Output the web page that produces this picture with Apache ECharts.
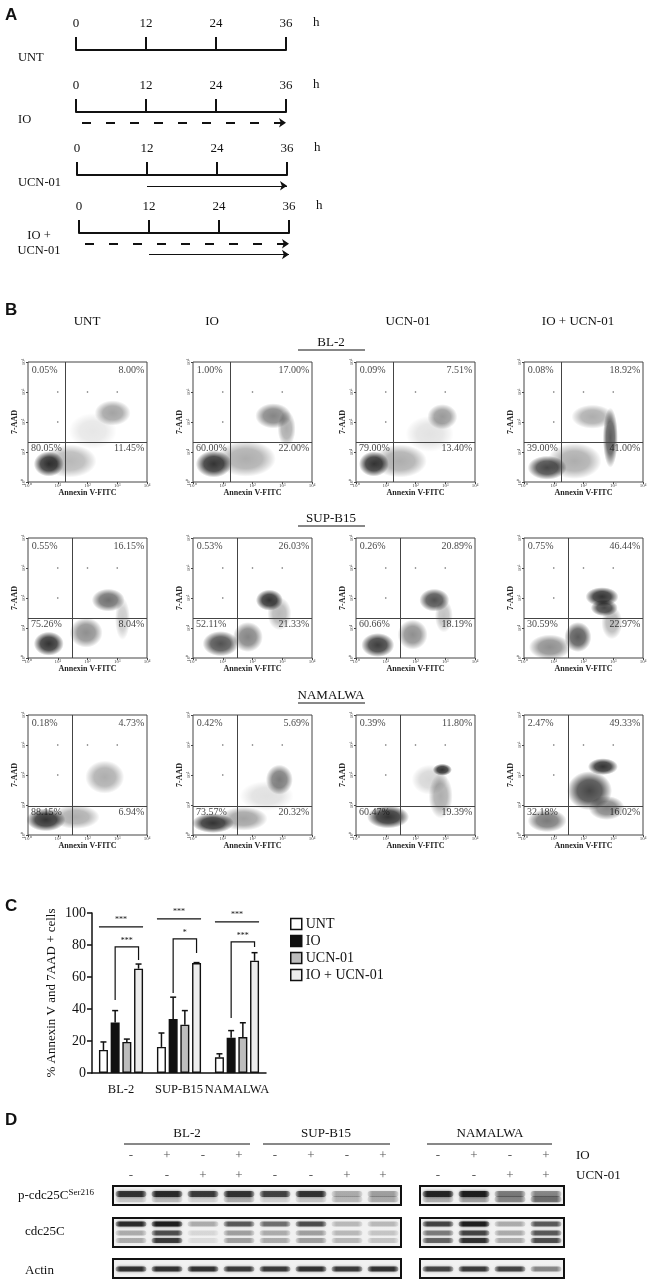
<!DOCTYPE html>
<html>
<head>
<meta charset="utf-8">
<script src="https://cdn.jsdelivr.net/npm/echarts@6/dist/echarts.min.js"></script>
<style>
  html, body { margin: 0; padding: 0; background: #fff; }
  #main { width: 654px; height: 1282px; }
</style>
</head>
<body>
<div id="main"></div>
<script>
// ---------- data ----------

// A: schedule
const timeTicks = [0, 12, 24, 36];
const scheduleRows = ['UNT', 'IO', 'UCN-01', 'IO +\nUCN-01'];
// [row, lane, start (h), end (h), drug]
const scheduleArrows = [
  [1, 1, 0, 36, 'IO'],
  [2, 1, 12, 36, 'UCN-01'],
  [3, 1, 0, 36, 'IO'],
  [3, 2, 12, 36, 'UCN-01']
];

// B: flow cytometry
const flowConditions = ['UNT', 'IO', 'UCN-01', 'IO + UCN-01'];
const flowLines = ['BL-2', 'SUP-B15', 'NAMALWA'];
const decadeTicks = ['10⁰', '10¹', '10²', '10³', '10⁴'];
// gate positions per cell line (Annexin V, 7-AAD)
const gateX = [18, 30, 30];
const gateY = [21, 21, 9.3];
// quadrant percentages [UL, UR, LL, LR]
const quadPct = [
  [['0.05%', '8.00%', '80.05%', '11.45%'], ['1.00%', '17.00%', '60.00%', '22.00%'],
   ['0.09%', '7.51%', '79.00%', '13.40%'], ['0.08%', '18.92%', '39.00%', '41.00%']],
  [['0.55%', '16.15%', '75.26%', '8.04%'], ['0.53%', '26.03%', '52.11%', '21.33%'],
   ['0.26%', '20.89%', '60.66%', '18.19%'], ['0.75%', '46.44%', '30.59%', '22.97%']],
  [['0.18%', '4.73%', '88.15%', '6.94%'], ['0.42%', '5.69%', '73.57%', '20.32%'],
   ['0.39%', '11.80%', '60.47%', '19.39%'], ['2.47%', '49.33%', '32.18%', '16.02%']]
];
// cell populations: [annexin centre, 7-AAD centre, spread x (decades), spread y (decades), density]
const flowPops = [
  [
    [[5, 4, 0.5, 0.42, 1.0], [25, 5, 0.9, 0.55, 0.35], [700, 200, 0.6, 0.42, 0.45], [150, 50, 0.8, 0.6, 0.12]],
    [[5, 4, 0.6, 0.45, 1.0], [60, 6, 1.0, 0.6, 0.4], [500, 160, 0.6, 0.42, 0.6], [1400, 60, 0.3, 0.6, 0.4]],
    [[4, 4, 0.5, 0.42, 1.0], [30, 5, 0.9, 0.55, 0.4], [800, 150, 0.5, 0.42, 0.5], [300, 40, 0.8, 0.6, 0.14]],
    [[6, 3, 0.65, 0.4, 0.9], [50, 5, 0.9, 0.6, 0.4], [800, 30, 0.25, 1.0, 0.8], [200, 150, 0.7, 0.4, 0.4]]
  ],
  [
    [[5, 3, 0.5, 0.4, 1.0], [90, 7, 0.55, 0.5, 0.55], [500, 85, 0.55, 0.38, 0.7], [1500, 20, 0.25, 0.7, 0.25]],
    [[8.5, 3, 0.6, 0.42, 0.85], [70, 5, 0.5, 0.5, 0.6], [370, 85, 0.45, 0.35, 1.0], [800, 30, 0.4, 0.55, 0.35]],
    [[5.4, 2.7, 0.55, 0.4, 0.95], [80, 6, 0.5, 0.5, 0.55], [430, 85, 0.5, 0.38, 0.85], [900, 25, 0.3, 0.55, 0.3]],
    [[7.4, 2.3, 0.7, 0.42, 0.55], [65, 5, 0.45, 0.5, 0.8], [420, 110, 0.55, 0.32, 1.0], [500, 47, 0.45, 0.28, 0.9], [900, 15, 0.35, 0.55, 0.35]]
  ],
  [
    [[4, 3.2, 0.65, 0.38, 1.0], [40, 4, 0.8, 0.4, 0.4], [380, 85, 0.65, 0.55, 0.4]],
    [[4.7, 2.5, 0.7, 0.33, 1.0], [50, 3.5, 0.8, 0.4, 0.45], [800, 70, 0.45, 0.5, 0.65], [300, 20, 0.9, 0.5, 0.15]],
    [[12, 4, 0.7, 0.38, 1.0], [700, 20, 0.4, 0.75, 0.4], [800, 150, 0.32, 0.2, 1.0], [300, 70, 0.6, 0.5, 0.2]],
    [[6, 3, 0.65, 0.38, 0.65], [160, 30, 0.75, 0.65, 0.9], [450, 190, 0.5, 0.28, 1.0], [600, 8, 0.6, 0.4, 0.6]]
  ]
];
// isolated events seen in every plot
const strayEvents = [[10, 1000], [100, 1000], [1000, 1000], [10, 100]];

// C: bar chart
const barGroups = ['BL-2', 'SUP-B15', 'NAMALWA'];
const barNames = ['UNT', 'IO', 'UCN-01', 'IO + UCN-01'];
const barMeans = [[14.4, 16.3, 9.8], [31.5, 33.8, 22], [19.4, 30.2, 22.5], [65.2, 68.7, 70.2]];
const barSD = [[5, 8.7, 2.2], [7.5, 13.6, 4.5], [1.8, 8.8, 8.9], [2.9, 0.3, 5]];
// [group, height, mark]
const sigAll = [[0, 91.3, '***'], [1, 96.3, '***'], [2, 94.4, '***']];
// [group, IO end, bracket top, IO+UCN end, mark]
const sigPair = [[0, 45.6, 78.8, 70.6, '***'], [1, 50, 83.8, 75, '*'], [2, 34.4, 81.9, 78.8, '***']];

// D: western blot
const blotLines = ['BL-2', 'SUP-B15', 'NAMALWA'];
const laneIO = ['-', '+', '-', '+', '-', '+', '-', '+', '-', '+', '-', '+'];
const laneUCN = ['-', '-', '+', '+', '-', '-', '+', '+', '-', '-', '+', '+'];
const blotRows = ['p-cdc25C', 'cdc25C', 'Actin'];
const pCdcMain = [0.85, 0.9, 0.8, 0.85, 0.75, 0.85, 0.3, 0.35, 0.95, 1.0, 0.5, 0.45];
const pCdcLow = [0.2, 0.25, 0.15, 0.3, 0.15, 0.2, 0.25, 0.3, 0.3, 0.35, 0.45, 0.55];
const cdcTop = [0.9, 1.0, 0.3, 0.65, 0.55, 0.7, 0.25, 0.25, 0.75, 1.0, 0.3, 0.65];
const cdcMid = [0.3, 0.7, 0.12, 0.35, 0.3, 0.35, 0.25, 0.2, 0.5, 0.75, 0.3, 0.65];
const cdcLow = [0.3, 0.8, 0.1, 0.35, 0.3, 0.35, 0.25, 0.2, 0.6, 0.85, 0.3, 0.7];
const actinBand = [0.85, 0.85, 0.85, 0.8, 0.8, 0.85, 0.8, 0.85, 0.75, 0.8, 0.75, 0.45];
// band level within each strip (0 = bottom, 1 = top)
const blotBands = [
  [[0.58, pCdcMain], [0.3, pCdcLow]],
  [[0.79, cdcTop], [0.48, cdcMid], [0.22, cdcLow]],
  [[0.48, actinBand]]
];

// ---------- layout ----------

const SERIF = 'Liberation Serif';
const SANS = 'Liberation Sans';
const INK = '#111';

const grid = [], xAxis = [], yAxis = [], series = [], graphic = [];

function addCart(g, xa, ya) {
  const i = grid.length;
  grid.push(g);
  xa.gridIndex = i;
  ya.gridIndex = i;
  xAxis.push(xa);
  yAxis.push(ya);
  return i;
}

function txt(x, y, text, o) {
  graphic.push({
    type: 'text', x: x, y: y, silent: true,
    style: Object.assign({
      text: text, fill: INK, fontFamily: SERIF, fontSize: 13,
      align: 'left', verticalAlign: 'middle'
    }, o || {})
  });
}

function hline(x1, x2, y, w) {
  graphic.push({
    type: 'line', silent: true,
    shape: { x1: x1, y1: y, x2: x2, y2: y },
    style: { stroke: INK, lineWidth: w || 1 }
  });
}

// panel letters
[['A', 15], ['B', 310], ['C', 906], ['D', 1120]].forEach(function (p) {
  txt(5, p[1], p[0], { fontFamily: SANS, fontWeight: 'bold', fontSize: 17 });
});

// ----- A: timelines
const tlLeft = [76, 76, 77, 79];
const tlTop = [50, 112, 175, 233];

scheduleRows.forEach(function (name, r) {
  const i = addCart(
    { left: tlLeft[r], top: tlTop[r], width: 210, height: 28 },
    {
      type: 'value', position: 'top', min: 0, max: 36, interval: 12,
      axisLine: { lineStyle: { color: INK, width: 2 } },
      axisTick: { length: 13, lineStyle: { color: INK, width: 2 } },
      axisLabel: { margin: 20, color: INK, fontFamily: SERIF, fontSize: 13 },
      splitLine: { show: false }
    },
    { type: 'value', min: 0, max: 2.6, inverse: true, show: false }
  );
  const arrows = scheduleArrows.filter(function (a) { return a[0] === r; });
  series.push({
    type: 'lines', coordinateSystem: 'cartesian2d', xAxisIndex: i, yAxisIndex: i,
    symbol: ['none', 'arrow'], symbolSize: 7, silent: true,
    data: arrows.map(function (a) {
      const io = a[4] === 'IO';
      return {
        coords: [[a[2], a[1]], [a[3], a[1]]],
        lineStyle: io
          ? { color: INK, width: 2, type: [9, 15], dashOffset: 18, curveness: 0, opacity: 1 }
          : { color: INK, width: 1.2, type: 'solid', curveness: 0, opacity: 1 }
      };
    })
  });
  txt(313 + tlLeft[r] - 76, tlTop[r] - 27, 'h', { fontSize: 13 });
  if (name.indexOf('\n') >= 0) {
    txt(39, tlTop[r] + 10, name, { align: 'center', fontSize: 12.5, lineHeight: 15 });
  } else {
    txt(18, tlTop[r] + 8, name, { fontSize: 12.5 });
  }
});

// ----- B: flow plots
const colLeft = [28, 193, 356, 524];
const colHead = [87, 212, 408, 578];
const rowTop = [362, 538, 715];
const FW = 119, FH = 120;
const pxPerDecade = FH / 4;

flowConditions.forEach(function (c, k) { txt(colHead[k], 322, c, { align: 'center' }); });

function blobFill(d) {
  return new echarts.graphic.RadialGradient(0.5, 0.5, 0.5, [
    { offset: 0, color: 'rgba(0,0,0,' + d + ')' },
    { offset: 0.55, color: 'rgba(0,0,0,' + (d * 0.85).toFixed(3) + ')' },
    { offset: 0.85, color: 'rgba(0,0,0,' + (d * 0.3).toFixed(3) + ')' },
    { offset: 1, color: 'rgba(0,0,0,0)' }
  ]);
}

function decadeLabel(v) {
  return decadeTicks[Math.round(Math.log10(v))];
}

flowLines.forEach(function (line, r) {
  txt(331, rowTop[r] - 19, line, { align: 'center' });
  hline(298, 365, rowTop[r] - 12, 1);

  flowConditions.forEach(function (cond, k) {
    const i = addCart(
      {
        left: colLeft[k], top: rowTop[r], width: FW, height: FH,
        show: true, borderColor: '#444', borderWidth: 1
      },
      {
        type: 'log', logBase: 10, min: 1, max: 10000,
        name: 'Annexin V-FITC', nameLocation: 'middle', nameGap: 6,
        nameTextStyle: { fontFamily: SERIF, fontSize: 8, fontWeight: 'bold', color: '#222' },
        axisLine: { show: false },
        axisTick: { length: 2, lineStyle: { color: '#444' } },
        axisLabel: { formatter: decadeLabel, fontSize: 5, margin: 1, color: '#444', fontFamily: SERIF, showMinLabel: true, showMaxLabel: true },
        splitLine: { show: false }
      },
      {
        type: 'log', logBase: 10, min: 1, max: 10000,
        name: '7-AAD', nameLocation: 'middle', nameGap: 9,
        nameTextStyle: { fontFamily: SERIF, fontSize: 8, fontWeight: 'bold', color: '#222' },
        axisLine: { show: false },
        axisTick: { length: 2, lineStyle: { color: '#444' } },
        axisLabel: { formatter: decadeLabel, fontSize: 5, margin: 2, rotate: 90, color: '#444', fontFamily: SERIF, showMinLabel: true, showMaxLabel: true },
        splitLine: { show: false }
      }
    );

    // populations
    series.push({
      type: 'scatter', xAxisIndex: i, yAxisIndex: i, clip: true, silent: true, z: 2,
      symbol: 'circle',
      symbolSize: function (v) { return [v[2] * 2 * pxPerDecade, v[3] * 2 * pxPerDecade]; },
      data: flowPops[r][k].map(function (p) {
        return { value: p, itemStyle: { color: blobFill(p[4]) } };
      }),
      markLine: {
        silent: true, symbol: 'none', label: { show: false },
        lineStyle: { color: '#444', width: 1, type: 'solid' },
        data: [{ xAxis: gateX[r] }, { yAxis: gateY[r] }]
      }
    });

    // stray events
    series.push({
      type: 'scatter', xAxisIndex: i, yAxisIndex: i, silent: true, z: 3,
      symbolSize: 1.6, itemStyle: { color: '#444' },
      data: strayEvents
    });

    // quadrant percentages
    const q = quadPct[r][k];
    series.push({
      type: 'scatter', xAxisIndex: i, yAxisIndex: i, silent: true, z: 6,
      symbolSize: 1, itemStyle: { color: 'rgba(0,0,0,0)' },
      label: { show: true, position: [0, 0], formatter: '{b}', fontFamily: SERIF, fontSize: 10, color: INK },
      data: [
        { name: q[0], value: [1.4, 5000], label: { align: 'left', verticalAlign: 'middle' } },
        { name: q[1], value: [8500, 5000], label: { align: 'right', verticalAlign: 'middle' } },
        { name: q[2], value: [1.3, gateY[r]], label: { align: 'left', verticalAlign: 'top', position: [0, 2] } },
        { name: q[3], value: [8500, gateY[r]], label: { align: 'right', verticalAlign: 'top', position: [0, 2] } }
      ]
    });
  });
});

// ----- C: bar chart
const barFill = ['#ffffff', '#111111', '#bdbdbd', '#ededed'];
const BAR_W = 9, BAR_STEP = 9 * 1.3;

const bi = addCart(
  { left: 92, top: 913, width: 174, height: 160 },
  {
    type: 'category', data: barGroups,
    axisLine: { lineStyle: { color: INK, width: 1.5 } },
    axisTick: { show: false },
    axisLabel: { fontFamily: SERIF, fontSize: 12.5, color: INK, margin: 10, interval: 0 }
  },
  {
    type: 'value', min: 0, max: 100, interval: 20,
    name: '% Annexin V and 7AAD + cells', nameLocation: 'middle', nameGap: 34,
    nameTextStyle: { fontFamily: SERIF, fontSize: 13, color: INK },
    axisLine: { show: true, lineStyle: { color: INK, width: 1.5 } },
    axisTick: { show: true, length: 5, lineStyle: { color: INK, width: 1.5 } },
    axisLabel: { fontFamily: SERIF, fontSize: 14, color: INK, margin: 6 },
    splitLine: { show: false }
  }
);

barNames.forEach(function (name, s) {
  series.push({
    type: 'bar', name: name, xAxisIndex: bi, yAxisIndex: bi,
    barWidth: BAR_W, barGap: '30%', silent: true,
    itemStyle: { color: barFill[s], borderColor: INK, borderWidth: 1.4 },
    data: barMeans[s]
  });
  series.push({
    type: 'custom', xAxisIndex: bi, yAxisIndex: bi, silent: true, z: 3,
    data: barGroups.map(function (g, c) { return [c, barMeans[s][c], barSD[s][c]]; }),
    renderItem: function (params, api) {
      const base = api.coord([api.value(0), api.value(1)]);
      const top = api.coord([api.value(0), api.value(1) + api.value(2)]);
      const x = base[0] + (s - 1.5) * BAR_STEP;
      return {
        type: 'group', children: [
          { type: 'line', shape: { x1: x, y1: base[1], x2: x, y2: top[1] }, style: { stroke: INK, lineWidth: 1.5 } },
          { type: 'line', shape: { x1: x - 3, y1: top[1], x2: x + 3, y2: top[1] }, style: { stroke: INK, lineWidth: 1.5 } }
        ]
      };
    }
  });
});

// significance: all-group bars
series.push({
  type: 'custom', xAxisIndex: bi, yAxisIndex: bi, silent: true, z: 4,
  data: sigAll,
  renderItem: function (params, api) {
    const p = api.coord([api.value(0), api.value(1)]);
    const half = 1.5 * BAR_STEP + BAR_W / 2;
    return {
      type: 'group', children: [
        { type: 'line', shape: { x1: p[0] - half, y1: p[1], x2: p[0] + half, y2: p[1] }, style: { stroke: INK, lineWidth: 1.2 } },
        { type: 'text', x: p[0], y: p[1] - 3, style: { text: sigAll[params.dataIndex][2], fontSize: 8, fontFamily: SERIF, fill: INK, align: 'center', verticalAlign: 'bottom' } }
      ]
    };
  }
});

// significance: IO vs IO + UCN-01 brackets
series.push({
  type: 'custom', xAxisIndex: bi, yAxisIndex: bi, silent: true, z: 4,
  data: sigPair.map(function (d) { return d.slice(0, 4); }),
  renderItem: function (params, api) {
    const c = api.value(0);
    const a = api.coord([c, api.value(1)]);
    const t = api.coord([c, api.value(2)]);
    const b = api.coord([c, api.value(3)]);
    const x1 = a[0] - 0.5 * BAR_STEP, x2 = a[0] + 1.5 * BAR_STEP;
    return {
      type: 'group', children: [
        { type: 'polyline', shape: { points: [[x1, a[1]], [x1, t[1]], [x2, t[1]], [x2, b[1]]] }, style: { stroke: INK, lineWidth: 1.2, fill: 'none' } },
        { type: 'text', x: (x1 + x2) / 2, y: t[1] - 2, style: { text: sigPair[params.dataIndex][4], fontSize: 8, fontFamily: SERIF, fill: INK, align: 'center', verticalAlign: 'bottom' } }
      ]
    };
  }
});

// ----- D: western blot
const blotBlocks = [
  { left: 113, width: 288, first: 0, n: 8 },
  { left: 420, width: 144, first: 8, n: 4 }
];
const stripTop = [1186, 1218, 1259];
const stripH = [19, 29, 19];
const bandH = [6, 5, 5];

blotBlocks.forEach(function (blk) {
  const lanes = [];
  for (let l = 0; l < blk.n; l++) lanes.push(blk.first + l);
  blotRows.forEach(function (row, r) {
    const i = addCart(
      {
        left: blk.left, top: stripTop[r], width: blk.width, height: stripH[r],
        show: true, borderColor: INK, borderWidth: 2, backgroundColor: '#f1f1f1'
      },
      {
        type: 'category', position: 'top', data: lanes.map(String),
        show: r === 0,
        axisLine: { show: false }, axisTick: { show: false },
        axisLabel: {
          margin: 0, interval: 0, fontFamily: SERIF, fontSize: 13, color: '#555', lineHeight: 20,
          formatter: function (v, idx) { return laneIO[lanes[idx]] + '\n' + laneUCN[lanes[idx]]; }
        }
      },
      { type: 'value', min: 0, max: 1, show: false }
    );
    const data = [];
    blotBands[r].forEach(function (band) {
      lanes.forEach(function (lane, li) { data.push([li, band[0], band[1][lane]]); });
    });
    series.push({
      type: 'custom', xAxisIndex: i, yAxisIndex: i, silent: true, clip: true,
      data: data,
      renderItem: function (params, api) {
        const p = api.coord([api.value(0), api.value(1)]);
        const w = api.size([1, 0])[0] * 0.86;
        const h = bandH[r];
        const a = api.value(2);
        return {
          type: 'rect',
          shape: { x: p[0] - w / 2, y: p[1] - h / 2, width: w, height: h, r: h / 2 },
          style: {
            fill: new echarts.graphic.LinearGradient(0, 0, 1, 0, [
              { offset: 0, color: 'rgba(25,25,25,' + (a * 0.3).toFixed(3) + ')' },
              { offset: 0.15, color: 'rgba(25,25,25,' + (a * 0.95).toFixed(3) + ')' },
              { offset: 0.85, color: 'rgba(25,25,25,' + (a * 0.95).toFixed(3) + ')' },
              { offset: 1, color: 'rgba(25,25,25,' + (a * 0.3).toFixed(3) + ')' }
            ]),
            shadowBlur: 3, shadowColor: 'rgba(25,25,25,' + (a * 0.7).toFixed(3) + ')'
          }
        };
      }
    });
  });
});

const blotCentres = [187, 326, 490];
const blotUnder = [[124, 250], [263, 390], [427, 552]];
blotLines.forEach(function (name, k) {
  txt(blotCentres[k], 1134, name, { align: 'center' });
  hline(blotUnder[k][0], blotUnder[k][1], 1144, 1);
});
txt(576, 1156, 'IO');
txt(576, 1176, 'UCN-01');

graphic.push({
  type: 'text', x: 18, y: 1196, silent: true,
  style: {
    text: '{a|' + blotRows[0] + '}{b|Ser216}', verticalAlign: 'middle',
    rich: {
      a: { fontFamily: SERIF, fontSize: 13, fill: INK, lineHeight: 16 },
      b: { fontFamily: SERIF, fontSize: 9, fill: INK, verticalAlign: 'top', lineHeight: 16 }
    }
  }
});
txt(25, 1232, blotRows[1]);
txt(25, 1271, blotRows[2]);

// ---------- chart ----------
const chart = echarts.init(document.getElementById('main'));
chart.setOption({
  animation: false,
  backgroundColor: '#fff',
  grid: grid,
  xAxis: xAxis,
  yAxis: yAxis,
  legend: {
    data: barNames, orient: 'vertical', left: 290, top: 917, padding: 0,
    itemWidth: 11, itemHeight: 11, itemGap: 3, icon: 'rect',
    itemStyle: { borderColor: INK, borderWidth: 1.5 },
    textStyle: { fontFamily: SERIF, fontSize: 14, color: INK, lineHeight: 13, padding: [0, 0, 0, -1] },
    selectedMode: false
  },
  series: series,
  graphic: graphic
});
</script>
</body>
</html>
